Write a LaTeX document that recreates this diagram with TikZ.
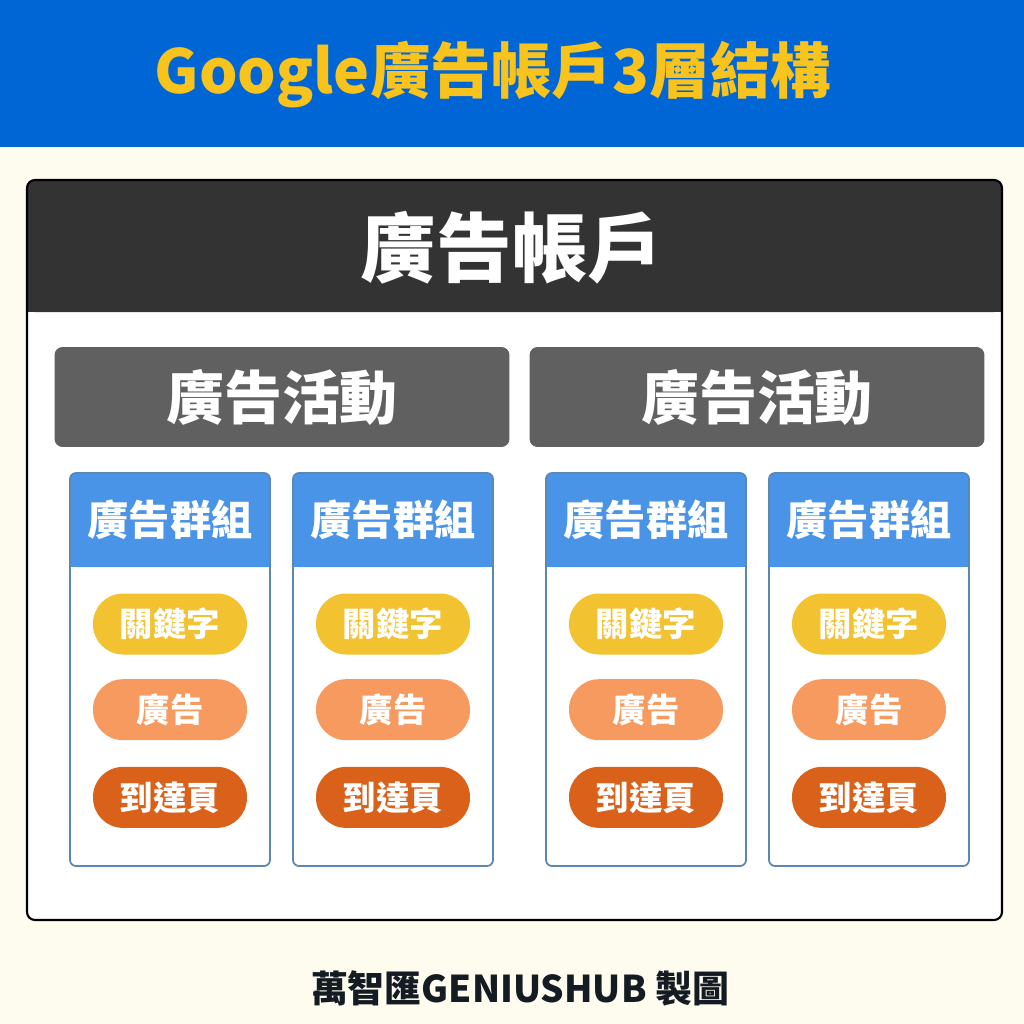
\documentclass[tikz,border=0pt]{standalone}
\usepackage{fontspec}
\setmainfont{Noto Sans CJK TC}
\usepackage{xcolor}
\usetikzlibrary{positioning}

\definecolor{cream}{HTML}{FEFCEF}
\definecolor{headblue}{HTML}{0066D6}
\definecolor{titleyellow}{HTML}{F7C31C}
\definecolor{darkbar}{HTML}{333333}
\definecolor{campgray}{HTML}{606060}
\definecolor{groupblue}{HTML}{4A94E8}
\definecolor{groupline}{HTML}{5A88B3}
\definecolor{kwyellow}{HTML}{F2C230}
\definecolor{adorange}{HTML}{F69A60}
\definecolor{lporange}{HTML}{D9611A}
\definecolor{inkdark}{HTML}{141B22}

\begin{document}
\begin{tikzpicture}[
  x=0.02cm, y=-0.02cm,
  title/.style={text=titleyellow, font=\bfseries\fontsize{34.5}{40}\selectfont},
  account/.style={text=white, font=\bfseries\fontsize{43}{50}\selectfont},
  campaign/.style={fill=campgray, rounded corners=0.16cm, minimum width=9.1cm, minimum height=2cm,
    text=white, font=\bfseries\fontsize{33}{39}\selectfont},
  grouptext/.style={text=white, font=\bfseries\fontsize{23.5}{28}\selectfont},
  pill/.style={rounded corners=0.6cm, minimum width=3.08cm, minimum height=1.22cm,
    text=white, font=\bfseries\fontsize{19}{22}\selectfont},
  credit/.style={text=inkdark, font=\bfseries\fontsize{21}{25}\selectfont}
]

% Background and header
\useasboundingbox (0,0) rectangle (1024,1024);
\fill[cream] (0,0) rectangle (1024,1024);
\fill[headblue] (0,0) rectangle (1024,147);
\node[title] (heading) at (493,75) {Google廣告帳戶3層結構};

% Account frame
\fill[white, rounded corners=0.16cm] (27,180) rectangle (1002,920);
\fill[darkbar, rounded corners=0.16cm] (27,180) rectangle (1002,312);
\fill[darkbar] (27,280) rectangle (1002,312);
\draw[black, line width=1.2pt, rounded corners=0.16cm] (27,180) rectangle (1002,920);
\node[account] (acct) at (512,248) {廣告帳戶};

% Campaigns
\node[campaign] (camp1) at (282,397) {廣告活動};
\node[campaign] (camp2) at (757,397) {廣告活動};

% Ad groups
\foreach \gx [count=\i] in {70,293,546,769} {
  \fill[white, rounded corners=0.12cm] (\gx,473) rectangle (\gx+200,866);
  \fill[groupblue, rounded corners=0.12cm] (\gx,473) rectangle (\gx+200,567);
  \fill[groupblue] (\gx,540) rectangle (\gx+200,567);
  \draw[groupline, line width=1pt, rounded corners=0.12cm] (\gx,473) rectangle (\gx+200,866);
  \node[grouptext] (grp\i) at (\gx+100,520) {廣告群組};
  \node[pill, fill=kwyellow] (kw\i) at (\gx+100,624) {關鍵字};
  \node[pill, fill=adorange, below=0.48cm of kw\i] (ad\i) {廣告};
  \node[pill, fill=lporange, below=0.52cm of ad\i] (lp\i) {到達頁};
}

% Credit line
\node[credit] (maker) at (520,988) {萬智匯GENIUSHUB 製圖};

\end{tikzpicture}
\end{document}
